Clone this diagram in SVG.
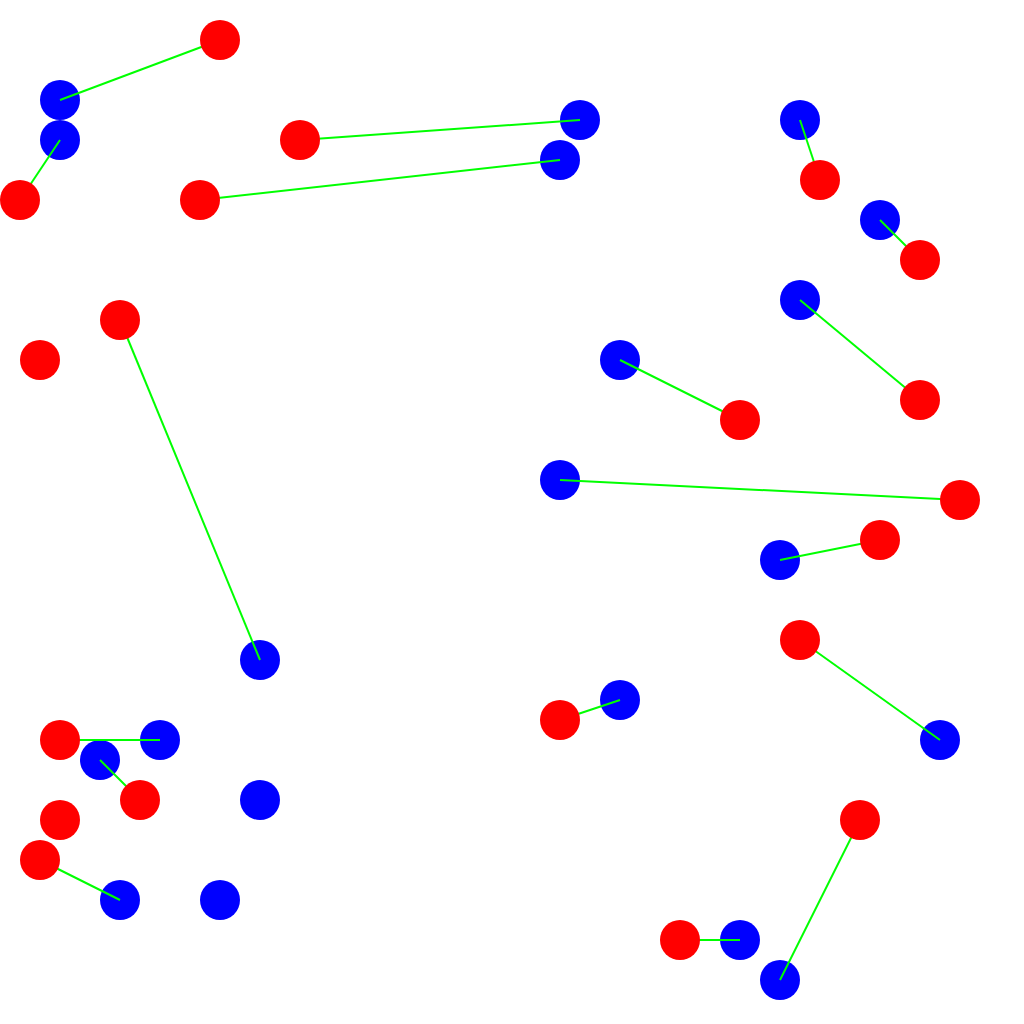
<svg xmlns="http://www.w3.org/2000/svg" width="1024" height="1024" viewBox="0 0 1024 1024">
<style>
.b{fill:#0000FF}
.r{fill:#FF0000}
.e{stroke:#00FF00;stroke-width:2;fill:none}
</style>
<rect width="1024" height="1024" fill="#FFFFFF"/>
<g id="blue-nodes">
<circle id="b1" class="b" cx="60" cy="100" r="20"/>
<circle id="b2" class="b" cx="60" cy="140" r="20"/>
<circle id="b3" class="b" cx="580" cy="120" r="20"/>
<circle id="b4" class="b" cx="560" cy="160" r="20"/>
<circle id="b5" class="b" cx="800" cy="120" r="20"/>
<circle id="b6" class="b" cx="880" cy="220" r="20"/>
<circle id="b7" class="b" cx="800" cy="300" r="20"/>
<circle id="b8" class="b" cx="620" cy="360" r="20"/>
<circle id="b9" class="b" cx="560" cy="480" r="20"/>
<circle id="b10" class="b" cx="780" cy="560" r="20"/>
<circle id="b11" class="b" cx="260" cy="660" r="20"/>
<circle id="b12" class="b" cx="160" cy="740" r="20"/>
<circle id="b13" class="b" cx="100" cy="760" r="20"/>
<circle id="b14" class="b" cx="260" cy="800" r="20"/>
<circle id="b15" class="b" cx="120" cy="900" r="20"/>
<circle id="b16" class="b" cx="220" cy="900" r="20"/>
<circle id="b17" class="b" cx="620" cy="700" r="20"/>
<circle id="b18" class="b" cx="940" cy="740" r="20"/>
<circle id="b19" class="b" cx="740" cy="940" r="20"/>
<circle id="b20" class="b" cx="780" cy="980" r="20"/>
</g>
<g id="connectors" class="e">
<line x1="60" y1="100" x2="220" y2="40"/>
<line x1="60" y1="140" x2="20" y2="200"/>
<line x1="580" y1="120" x2="300" y2="140"/>
<line x1="560" y1="160" x2="200" y2="200"/>
<line x1="800" y1="120" x2="820" y2="180"/>
<line x1="880" y1="220" x2="920" y2="260"/>
<line x1="800" y1="300" x2="920" y2="400"/>
<line x1="620" y1="360" x2="740" y2="420"/>
<line x1="560" y1="480" x2="960" y2="500"/>
<line x1="780" y1="560" x2="880" y2="540"/>
<line x1="260" y1="660" x2="120" y2="320"/>
<line x1="160" y1="740" x2="60" y2="740"/>
<line x1="100" y1="760" x2="140" y2="800"/>
<line x1="120" y1="900" x2="40" y2="860"/>
<line x1="620" y1="700" x2="560" y2="720"/>
<line x1="940" y1="740" x2="800" y2="640"/>
<line x1="740" y1="940" x2="680" y2="940"/>
<line x1="780" y1="980" x2="860" y2="820"/>
</g>
<g id="red-nodes">
<circle id="r1" class="r" cx="220" cy="40" r="20"/>
<circle id="r2" class="r" cx="300" cy="140" r="20"/>
<circle id="r3" class="r" cx="20" cy="200" r="20"/>
<circle id="r4" class="r" cx="200" cy="200" r="20"/>
<circle id="r5" class="r" cx="820" cy="180" r="20"/>
<circle id="r6" class="r" cx="920" cy="260" r="20"/>
<circle id="r7" class="r" cx="120" cy="320" r="20"/>
<circle id="r8" class="r" cx="40" cy="360" r="20"/>
<circle id="r9" class="r" cx="920" cy="400" r="20"/>
<circle id="r10" class="r" cx="740" cy="420" r="20"/>
<circle id="r11" class="r" cx="960" cy="500" r="20"/>
<circle id="r12" class="r" cx="880" cy="540" r="20"/>
<circle id="r13" class="r" cx="800" cy="640" r="20"/>
<circle id="r14" class="r" cx="60" cy="740" r="20"/>
<circle id="r15" class="r" cx="140" cy="800" r="20"/>
<circle id="r16" class="r" cx="60" cy="820" r="20"/>
<circle id="r17" class="r" cx="40" cy="860" r="20"/>
<circle id="r18" class="r" cx="560" cy="720" r="20"/>
<circle id="r19" class="r" cx="860" cy="820" r="20"/>
<circle id="r20" class="r" cx="680" cy="940" r="20"/>
</g>
</svg>
